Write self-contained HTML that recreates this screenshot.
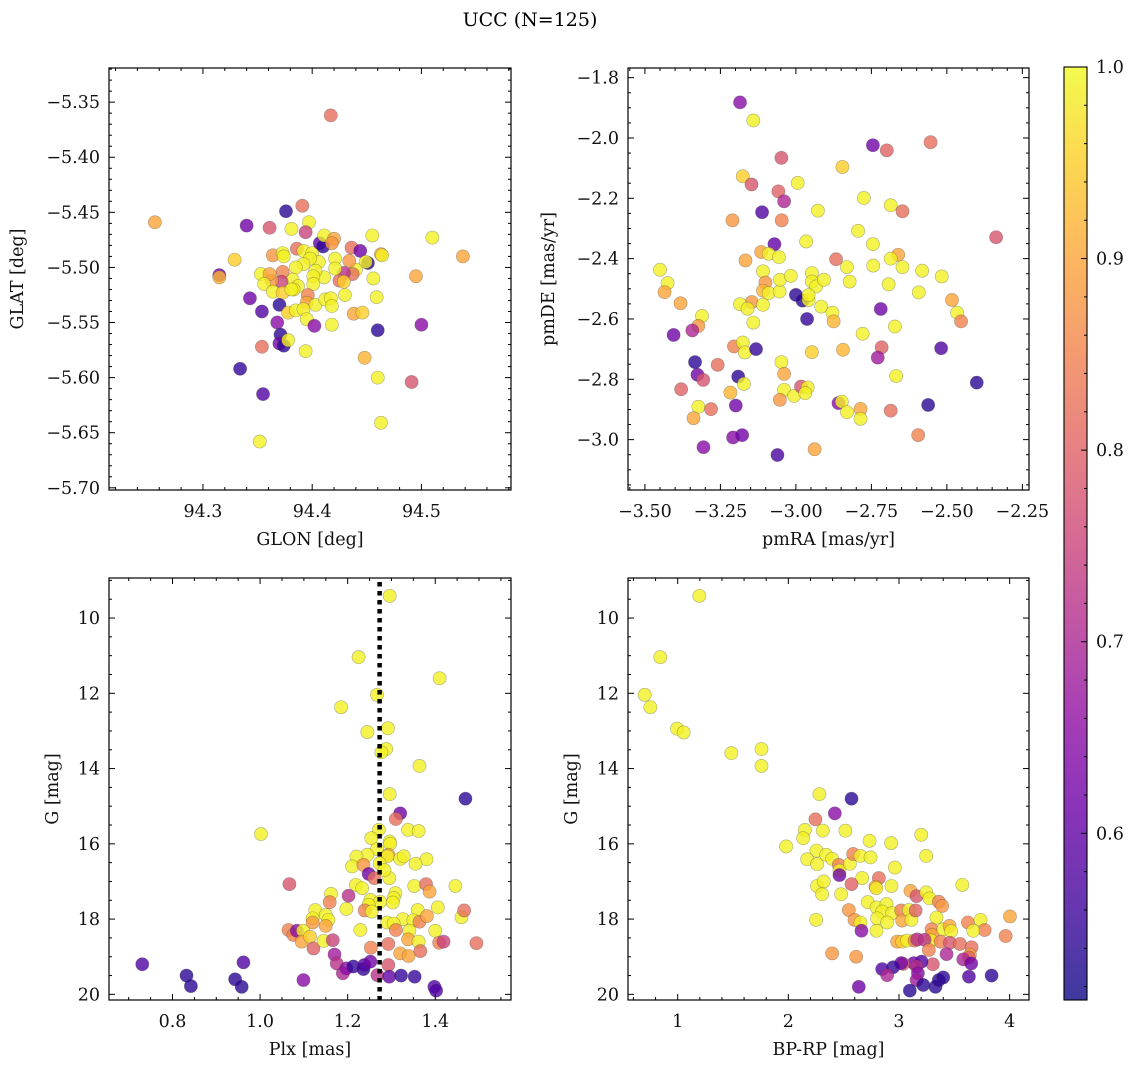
<!DOCTYPE html>
<html><head><meta charset="utf-8"><style>
body{margin:0;background:#fff;}
svg{display:block;font-family:"DejaVu Serif","Liberation Serif",serif;}
</style></head><body>
<svg id="fig" width="1136" height="1067" viewBox="0 0 1136 1067" xmlns="http://www.w3.org/2000/svg">
<defs><linearGradient id="plasmaGrad" x1="0" y1="1" x2="0" y2="0"></linearGradient></defs>
<text x="530" y="26" font-size="19" text-anchor="middle">UCC (N=125)</text>
</svg>
<script>
// ---- Data: top-left (GLON vs GLAT)
const tlGlon=[94.417,94.256,94.376,94.340,94.361,94.391,94.397,94.381,94.394,94.329,94.315,94.315,94.364,94.373,94.374,94.386,94.392,94.400,94.407,94.410,94.411,94.420,94.418,94.436,94.444,94.455,94.463,94.464,94.510,94.538,94.495,94.451,94.449,94.440,94.434,94.437,94.429,94.425,94.429,94.421,94.421,94.411,94.406,94.398,94.403,94.401,94.401,94.396,94.395,94.403,94.392,94.385,94.382,94.387,94.383,94.373,94.372,94.363,94.353,94.361,94.356,94.364,94.373,94.381,94.370,94.378,94.385,94.392,94.343,94.354,94.368,94.371,94.370,94.374,94.378,94.354,94.334,94.355,94.352,94.395,94.394,94.402,94.412,94.417,94.418,94.418,94.430,94.438,94.446,94.456,94.459,94.460,94.448,94.460,94.491,94.500,94.463];
const tlGlat=[-5.362,-5.459,-5.449,-5.462,-5.464,-5.444,-5.459,-5.465,-5.468,-5.493,-5.507,-5.509,-5.489,-5.487,-5.490,-5.483,-5.485,-5.487,-5.478,-5.481,-5.471,-5.474,-5.478,-5.482,-5.485,-5.471,-5.488,-5.489,-5.473,-5.490,-5.508,-5.496,-5.495,-5.502,-5.494,-5.506,-5.505,-5.512,-5.513,-5.492,-5.501,-5.509,-5.495,-5.492,-5.503,-5.508,-5.515,-5.525,-5.532,-5.534,-5.497,-5.500,-5.511,-5.517,-5.520,-5.504,-5.513,-5.512,-5.506,-5.506,-5.515,-5.522,-5.523,-5.520,-5.534,-5.541,-5.539,-5.538,-5.528,-5.540,-5.550,-5.561,-5.569,-5.571,-5.566,-5.572,-5.592,-5.615,-5.658,-5.547,-5.576,-5.553,-5.529,-5.528,-5.535,-5.552,-5.525,-5.542,-5.541,-5.510,-5.527,-5.557,-5.582,-5.600,-5.604,-5.552,-5.641];
const tlProb=[0.82,0.90,0.54,0.62,0.78,0.82,0.99,0.99,0.75,0.95,0.62,0.92,0.88,0.99,0.99,0.82,0.99,0.99,0.60,0.54,0.99,0.90,0.88,0.82,0.62,0.99,0.90,0.99,0.99,0.90,0.90,0.54,0.99,0.99,0.88,0.82,0.72,0.82,0.95,0.99,0.99,0.99,0.99,0.99,0.99,0.99,0.99,0.85,0.90,0.99,0.99,0.99,0.99,0.99,0.99,0.85,0.75,0.88,0.99,0.90,0.99,0.99,0.95,0.99,0.54,0.95,0.99,0.99,0.62,0.58,0.65,0.54,0.62,0.54,0.99,0.82,0.55,0.58,0.99,0.99,0.99,0.65,0.99,0.99,0.99,0.99,0.99,0.90,0.95,0.99,0.99,0.54,0.92,0.99,0.78,0.65,0.99];

// ---- Data: top-right (pmRA vs pmDE)
const trPmra=[-3.185,-3.141,-2.745,-2.699,-2.554,-3.048,-2.846,-3.176,-3.147,-2.994,-3.058,-3.039,-2.775,-2.686,-2.647,-3.112,-2.927,-3.210,-3.047,-2.794,-2.337,-2.966,-2.745,-3.071,-3.115,-3.090,-3.056,-3.167,-2.867,-2.661,-2.686,-2.744,-2.831,-2.647,-2.582,-2.517,-3.450,-3.425,-3.435,-3.382,-3.109,-3.101,-3.109,-3.090,-3.054,-3.053,-3.017,-2.947,-2.947,-2.933,-2.907,-2.822,-2.693,-2.593,-3.000,-2.978,-2.958,-2.958,-2.916,-2.879,-2.875,-2.963,-3.146,-3.109,-3.185,-3.160,-3.141,-3.311,-3.323,-3.343,-3.405,-2.779,-2.719,-2.483,-2.466,-2.453,-2.672,-3.205,-3.176,-3.169,-3.132,-2.716,-2.729,-2.519,-2.844,-2.947,-3.048,-3.259,-3.334,-3.326,-3.307,-3.191,-3.172,-3.039,-2.668,-2.401,-3.380,-3.217,-3.039,-3.006,-2.983,-2.961,-2.969,-3.053,-3.323,-3.281,-3.339,-3.199,-2.859,-2.848,-2.831,-2.786,-2.786,-2.686,-2.562,-2.595,-3.208,-3.178,-3.306,-3.061,-2.938];
const trPmde=[-1.882,-1.942,-2.024,-2.041,-2.014,-2.066,-2.096,-2.127,-2.154,-2.149,-2.177,-2.210,-2.199,-2.223,-2.243,-2.246,-2.241,-2.273,-2.273,-2.308,-2.329,-2.343,-2.352,-2.352,-2.378,-2.384,-2.395,-2.406,-2.402,-2.387,-2.400,-2.423,-2.428,-2.428,-2.440,-2.459,-2.437,-2.481,-2.511,-2.548,-2.442,-2.479,-2.506,-2.514,-2.509,-2.470,-2.457,-2.448,-2.476,-2.492,-2.470,-2.476,-2.485,-2.512,-2.520,-2.539,-2.537,-2.521,-2.559,-2.579,-2.608,-2.600,-2.544,-2.553,-2.551,-2.566,-2.612,-2.590,-2.623,-2.638,-2.653,-2.649,-2.567,-2.537,-2.579,-2.608,-2.625,-2.691,-2.678,-2.711,-2.700,-2.694,-2.728,-2.697,-2.702,-2.710,-2.743,-2.752,-2.743,-2.785,-2.802,-2.791,-2.815,-2.782,-2.789,-2.811,-2.833,-2.844,-2.835,-2.855,-2.824,-2.827,-2.846,-2.868,-2.891,-2.899,-2.929,-2.887,-2.879,-2.874,-2.909,-2.898,-2.931,-2.904,-2.885,-2.985,-2.993,-2.985,-3.025,-3.051,-3.032];
const trProb=[0.65,0.99,0.62,0.80,0.82,0.78,0.95,0.95,0.78,0.99,0.80,0.70,0.99,0.99,0.82,0.58,0.99,0.88,0.85,0.99,0.78,0.99,0.99,0.60,0.90,0.99,0.99,0.90,0.82,0.90,0.99,0.99,0.99,0.99,0.99,0.99,0.99,0.99,0.90,0.90,0.99,0.88,0.92,0.99,0.99,0.99,0.99,0.99,0.99,0.99,0.99,0.99,0.99,0.99,0.54,0.54,0.99,0.99,0.99,0.99,0.92,0.55,0.88,0.99,0.99,0.99,0.99,0.99,0.88,0.70,0.62,0.99,0.62,0.90,0.99,0.85,0.99,0.85,0.99,0.99,0.55,0.80,0.68,0.58,0.92,0.95,0.99,0.82,0.54,0.62,0.78,0.54,0.99,0.90,0.99,0.54,0.80,0.92,0.99,0.99,0.78,0.99,0.99,0.88,0.99,0.82,0.90,0.62,0.65,0.99,0.99,0.90,0.99,0.82,0.54,0.85,0.65,0.62,0.65,0.57,0.90];

// ---- Data: bottom-left (Plx vs G)
const blPlx=[1.296,1.225,1.410,1.267,1.185,1.292,1.245,1.288,1.277,1.364,1.296,1.469,1.320,1.310,1.002,1.271,1.338,1.362,1.254,1.296,1.297,1.267,1.245,1.220,1.293,1.291,1.320,1.328,1.380,1.355,1.210,1.236,1.273,1.248,1.261,1.295,1.284,1.067,1.219,1.233,1.352,1.379,1.387,1.446,1.202,1.162,1.159,1.309,1.305,1.303,1.252,1.274,1.248,1.239,1.255,1.197,1.126,1.150,1.156,1.120,1.120,1.150,1.406,1.360,1.326,1.350,1.364,1.381,1.290,1.305,1.310,1.341,1.400,1.460,1.466,1.338,1.362,1.409,1.419,1.494,1.366,1.320,1.339,1.293,1.253,1.229,1.065,1.076,1.084,1.098,1.095,1.114,1.122,1.145,1.166,1.170,1.175,1.189,1.197,1.213,1.236,1.238,1.252,1.268,1.293,1.295,1.322,1.353,1.398,1.402,1.099,0.731,0.832,0.842,0.943,0.958,0.962];
const blG=[9.41,11.04,11.60,12.04,12.37,12.93,13.03,13.48,13.57,13.93,14.68,14.80,15.19,15.34,15.74,15.63,15.63,15.66,15.85,15.94,16.00,16.14,16.29,16.34,16.29,16.33,16.40,16.33,16.41,16.53,16.60,16.56,16.52,16.80,16.91,16.91,16.70,17.07,17.09,17.18,17.12,17.07,17.27,17.12,17.38,17.33,17.55,17.31,17.44,17.56,17.49,17.54,17.62,17.77,17.80,17.73,17.76,17.89,18.02,17.98,18.09,18.18,17.69,17.76,18.00,18.03,18.07,17.92,18.09,18.12,18.29,18.31,18.31,17.95,17.77,18.54,18.60,18.63,18.60,18.64,18.85,18.91,18.98,18.66,18.76,18.29,18.29,18.42,18.31,18.31,18.60,18.47,18.78,18.58,18.56,18.94,19.18,19.44,19.31,19.26,19.33,19.22,19.13,19.49,19.22,19.53,19.50,19.53,19.80,19.90,19.62,19.20,19.50,19.78,19.60,19.80,19.15];
const blProb=[0.99,0.99,0.99,0.99,0.99,0.99,0.99,0.99,0.99,0.99,0.99,0.54,0.62,0.82,0.99,0.99,0.99,0.99,0.99,0.99,0.99,0.99,0.99,0.99,0.90,0.99,0.99,0.99,0.99,0.99,0.99,0.88,0.99,0.62,0.82,0.99,0.99,0.78,0.99,0.99,0.99,0.82,0.90,0.99,0.72,0.99,0.85,0.99,0.99,0.99,0.99,0.99,0.99,0.85,0.99,0.99,0.99,0.99,0.99,0.99,0.88,0.90,0.99,0.99,0.99,0.99,0.85,0.90,0.99,0.99,0.85,0.99,0.99,0.99,0.82,0.90,0.99,0.85,0.75,0.82,0.82,0.90,0.90,0.82,0.85,0.99,0.85,0.85,0.65,0.99,0.90,0.95,0.80,0.99,0.75,0.68,0.72,0.70,0.65,0.55,0.55,0.58,0.62,0.72,0.78,0.60,0.55,0.55,0.58,0.58,0.65,0.58,0.54,0.54,0.54,0.54,0.58];

// ---- Data: bottom-right (BP-RP vs G)
const brBprp=[1.196,0.843,0.702,0.753,0.994,1.054,1.485,1.757,1.757,1.980,2.281,2.571,2.420,2.245,2.149,2.311,2.134,2.516,2.254,2.170,2.260,2.342,2.396,2.456,2.462,2.462,2.556,2.586,2.652,2.743,2.734,2.929,3.201,3.246,2.963,2.667,2.818,2.788,2.795,2.571,2.260,2.320,2.305,2.477,2.718,2.932,3.104,3.159,3.246,3.276,3.360,3.390,3.572,2.797,2.887,2.848,2.938,2.803,2.893,2.797,2.547,2.598,2.652,2.661,2.251,3.020,3.029,3.089,3.113,3.150,3.339,3.294,3.300,3.291,3.400,3.457,3.472,3.623,3.737,3.774,3.671,4.003,3.964,2.984,3.029,3.074,3.141,3.165,3.231,3.270,3.376,3.460,3.551,3.656,3.641,3.632,3.581,3.653,3.430,3.306,3.204,3.134,3.038,3.020,2.947,2.848,2.893,3.159,3.171,3.159,3.219,3.098,3.330,3.360,3.400,3.632,3.837,2.637,2.396,2.613];
const brG=[9.41,11.04,12.04,12.37,12.94,13.04,13.59,13.48,13.93,16.07,14.68,14.80,15.19,15.35,15.63,15.65,15.85,15.65,16.18,16.41,16.54,16.29,16.40,16.56,16.71,16.83,16.53,16.27,16.32,16.36,15.92,15.98,15.76,16.32,16.63,16.91,16.91,17.14,17.18,17.07,17.12,17.00,17.34,17.34,17.55,17.12,17.25,17.39,17.29,17.45,17.54,17.65,17.09,17.69,17.60,17.80,17.84,17.98,18.09,18.31,17.76,18.02,18.09,18.31,18.02,17.77,18.04,17.76,18.02,17.77,17.96,18.27,18.42,18.57,18.27,18.18,18.32,18.09,18.02,18.29,18.31,17.93,18.45,18.60,18.60,18.57,18.57,18.54,18.55,18.82,18.60,18.63,18.66,18.75,18.95,19.02,19.07,19.18,18.93,19.20,19.13,19.17,19.19,19.17,19.28,19.33,19.49,19.26,19.44,19.62,19.75,19.90,19.80,19.62,19.55,19.53,19.50,19.80,18.91,19.00];
const brProb=[0.99,0.99,0.99,0.99,0.99,0.99,0.99,0.99,0.99,0.99,0.99,0.54,0.65,0.82,0.99,0.99,0.99,0.99,0.99,0.99,0.99,0.99,0.99,0.85,0.99,0.62,0.99,0.85,0.99,0.99,0.99,0.99,0.99,0.99,0.99,0.99,0.82,0.90,0.99,0.80,0.99,0.99,0.99,0.99,0.99,0.99,0.90,0.78,0.99,0.99,0.85,0.88,0.99,0.99,0.99,0.99,0.99,0.99,0.99,0.99,0.88,0.88,0.99,0.65,0.99,0.85,0.90,0.99,0.99,0.80,0.99,0.85,0.90,0.99,0.99,0.90,0.99,0.85,0.99,0.85,0.99,0.90,0.85,0.90,0.95,0.99,0.85,0.72,0.72,0.85,0.85,0.78,0.82,0.82,0.90,0.80,0.70,0.62,0.70,0.78,0.58,0.62,0.80,0.62,0.55,0.58,0.70,0.72,0.65,0.68,0.54,0.54,0.54,0.54,0.54,0.58,0.54,0.62,0.88,0.88];

// ---- Colorbar
const cbTicks=[0.6,0.7,0.8,0.9,1.0];
const plxRef=[1.273];

const svg=document.getElementById('fig');
const NS='http://www.w3.org/2000/svg';
function el(tag,attrs,parent){const e=document.createElementNS(NS,tag);for(const k in attrs)e.setAttribute(k,attrs[k]);(parent||svg).appendChild(e);return e;}

const plasma=[[13,8,135],[65,4,157],[106,0,168],[143,13,164],[177,42,144],[204,71,120],[225,100,98],[242,132,75],[252,166,54],[252,206,37],[240,249,33]];
const VMIN=0.513,VMAX=1.0;
function cmap(v){let t=(v-VMIN)/(VMAX-VMIN);t=Math.max(0,Math.min(1,t));const f=t*10;const i=Math.min(9,Math.floor(f));const r=f-i;const a=plasma[i],b=plasma[i+1];
 return 'rgb('+a.map((c,k)=>Math.round(c+(b[k]-c)*r)).join(',')+')';}
const grad=document.getElementById('plasmaGrad');
plasma.forEach((c,i)=>{el('stop',{offset:(i/10),'stop-color':'rgb('+c.join(',')+')'},grad);});

function fmt(v,d){const s=Math.abs(v).toFixed(d);return (v<-1e-9?'\u2212':'')+s;}
const FS=17.5;

function panel(cfg){
 const g=el('g',{});
 
 
 const {px0,px1,py0,py1,xmin,xmax,ybot,ytop}=cfg;
 const sx=v=>px0+(v-xmin)/(xmax-xmin)*(px1-px0);
 const sy=v=>py1-(v-ybot)/(ytop-ybot)*(py1-py0);
 const pts=el('g',{},g);
 
 
 for(let i=0;i<cfg.xs.length;i++){
  const c=el('circle',{cx:sx(cfg.xs[i]).toFixed(2),cy:sy(cfg.ys[i]).toFixed(2),r:6.6,fill:cmap(cfg.ps[i]),'fill-opacity':0.8,stroke:'rgba(60,60,60,0.4)','stroke-width':0.6},pts);
  
  
 }
 if(cfg.vline){
  const l=el('line',{x1:sx(cfg.vline[0]),x2:sx(cfg.vline[0]),y1:py0+4,y2:py1,stroke:'#000','stroke-width':4.5,'stroke-dasharray':'4.5 4.5'},g);
  
  
 }
 const fr=el('rect',{x:px0,y:py0,width:px1-px0,height:py1-py0,fill:'none',stroke:'#000','stroke-width':1.2},g);
 
 
 const tg=el('g',{stroke:'#000','stroke-width':1},g);
 const xlo=Math.min(xmin,xmax),xhi=Math.max(xmin,xmax);
 for(let k=Math.ceil(xlo/cfg.xminor-1e-6);k*cfg.xminor<=xhi+1e-9;k++){
  const v=k*cfg.xminor;const x=sx(v);
  const isMaj=Math.abs(v/cfg.xmajor-Math.round(v/cfg.xmajor))<1e-6;
  const L=isMaj?6:3;
  el('line',{x1:x,x2:x,y1:py1,y2:py1-L},tg);el('line',{x1:x,x2:x,y1:py0,y2:py0+L},tg);
  if(isMaj){const t=el('text',{x:x,y:py1+27,'font-size':FS,'text-anchor':'middle',stroke:'none',fill:'#111'},g);t.textContent=fmt(v,cfg.xdec);
   }
 }
 const ylo=Math.min(ybot,ytop),yhi=Math.max(ybot,ytop);
 for(let k=Math.ceil(ylo/cfg.yminor-1e-6);k*cfg.yminor<=yhi+1e-9;k++){
  const v=k*cfg.yminor;const y=sy(v);
  const isMaj=Math.abs(v/cfg.ymajor-Math.round(v/cfg.ymajor))<1e-6;
  const L=isMaj?6:3;
  el('line',{x1:px0,x2:px0+L,y1:y,y2:y},tg);el('line',{x1:px1,x2:px1-L,y1:y,y2:y},tg);
  if(isMaj){const t=el('text',{x:px0-9,y:y+6,'font-size':FS,'text-anchor':'end',fill:'#111'},g);t.textContent=fmt(v,cfg.ydec);
   }
 }
 const xl=el('text',{x:(px0+px1)/2,y:py1+55,'font-size':FS,'text-anchor':'middle',fill:'#111'},g);xl.textContent=cfg.xlabel;
 
 const yl=el('text',{x:0,y:0,'font-size':FS,'text-anchor':'middle',fill:'#111',transform:'translate('+cfg.ylx+','+((py0+py1)/2)+') rotate(-90)'},g);yl.textContent=cfg.ylabel;
 
}

panel({name:'glon-glat-panel',px0:109,px1:511,py0:68,py1:490,xmin:94.214,xmax:94.582,ybot:-5.702,ytop:-5.319,xmajor:0.1,xminor:0.02,ymajor:0.05,yminor:0.01,xdec:1,ydec:2,xs:tlGlon,ys:tlGlat,ps:tlProb,xlabel:'GLON [deg]',ylabel:'GLAT [deg]',ylx:23});
panel({name:'pm-panel',px0:628,px1:1029,py0:68,py1:490,xmin:-3.556,xmax:-2.228,ybot:-3.167,ytop:-1.768,xmajor:0.25,xminor:0.05,ymajor:0.2,yminor:0.05,xdec:2,ydec:1,xs:trPmra,ys:trPmde,ps:trProb,xlabel:'pmRA [mas/yr]',ylabel:'pmDE [mas/yr]',ylx:554});
panel({name:'plx-g-panel',px0:109,px1:511,py0:578,py1:1000,xmin:0.655,xmax:1.573,ybot:20.15,ytop:8.936,xmajor:0.2,xminor:0.05,ymajor:2,yminor:0.5,xdec:1,ydec:0,xs:blPlx,ys:blG,ps:blProb,xlabel:'Plx [mas]',ylabel:'G [mag]',ylx:58,vline:plxRef});
panel({name:'cmd-panel',px0:628,px1:1029,py0:578,py1:1000,xmin:0.551,xmax:4.175,ybot:20.15,ytop:8.936,xmajor:1,xminor:0.2,ymajor:2,yminor:0.5,xdec:0,ydec:0,xs:brBprp,ys:brG,ps:brProb,xlabel:'BP-RP [mag]',ylabel:'G [mag]',ylx:577});

// colorbar
const cb=el('g',{});


const CB={x0:1064,x1:1087,y0:67,y1:1000};
const cy=v=>CB.y1-(v-VMIN)/(VMAX-VMIN)*(CB.y1-CB.y0);
el('rect',{x:CB.x0,y:CB.y0,width:CB.x1-CB.x0,height:CB.y1-CB.y0,fill:'url(#plasmaGrad)','fill-opacity':0.8},cb);
el('rect',{x:CB.x0,y:CB.y0,width:CB.x1-CB.x0,height:CB.y1-CB.y0,fill:'none',stroke:'#000','stroke-width':1.1},cb);
for(let k=26;k<=50;k++){const v=k*0.02;if(v<VMIN)continue;const y=cy(v);const maj=(k%5===0);
 el('line',{x1:CB.x1,x2:CB.x1-(maj?6:3),y1:y,y2:y,stroke:'#000','stroke-width':1},cb);}
cbTicks.forEach(v=>{const t=el('text',{x:1096,y:cy(v)+6,'font-size':FS,fill:'#111'},cb);t.textContent=v.toFixed(1);
 });
</script>
</body></html>
